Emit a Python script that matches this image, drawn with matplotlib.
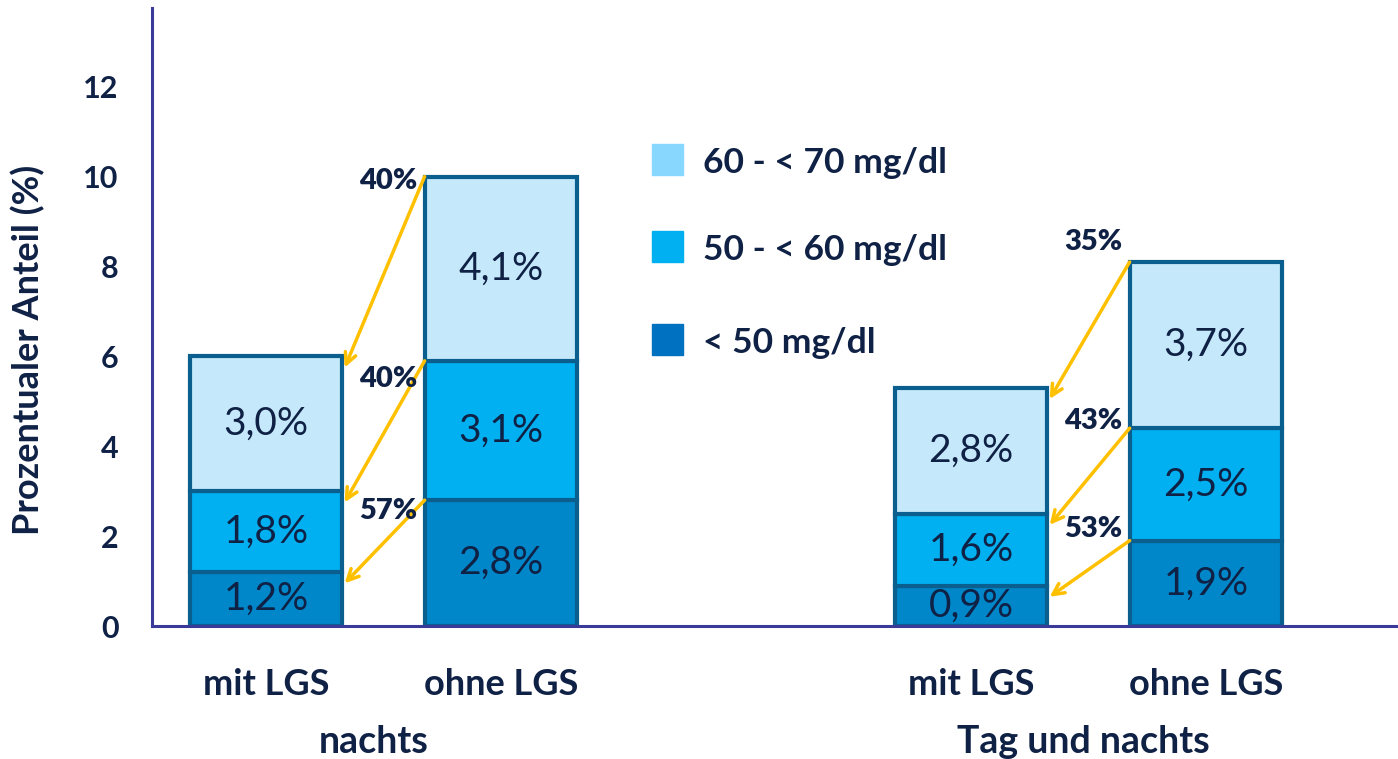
import matplotlib
matplotlib.use("Agg")
import matplotlib.pyplot as plt
from matplotlib.patches import Rectangle

plt.rcParams['font.family'] = ['Lato', 'DejaVu Sans']

# Daten
kategorien = ["mit LGS", "ohne LGS", "mit LGS", "ohne LGS"]
gruppen = ["nachts", "Tag und nachts"]
unter_50 = [1.2, 2.8, 0.9, 1.9]
von_50_60 = [1.8, 3.1, 1.6, 2.5]
von_60_70 = [3.0, 4.1, 2.8, 3.7]
reduktion = ["40%", "40%", "57%", "35%", "43%", "53%"]
reduktion_y = [9.9, 5.5, 2.55, 8.55, 4.55, 2.15]
legende = ["60 - < 70 mg/dl", "50 - < 60 mg/dl", "< 50 mg/dl"]

x = [0, 1, 3, 4]
breite = 0.65

text_farbe = "#0F2145"
kante = "#0A5F8F"
farben_balken = ["#0087C9", "#00B0F0", "#C5E9FB"]
farben_legende = ["#87D7FF", "#00B0F0", "#0070C0"]
pfeil_farbe = "#FFC000"

fig = plt.figure(figsize=(13.98, 7.59), dpi=100)
ax = fig.add_axes([152 / 1398, 133 / 759, 1246 / 1398, 618 / 759])

unten = [0, 0, 0, 0]
for werte, farbe in zip([unter_50, von_50_60, von_60_70], farben_balken):
    ax.bar(x, werte, breite, bottom=unten, color=farbe, edgecolor=kante,
           linewidth=3, zorder=2)
    for xi, w, b in zip(x, werte, unten):
        ax.text(xi, b + w / 2, f"{w:.1f}%".replace(".", ","), ha="center",
                va="center", fontsize=28, color=text_farbe, zorder=3)
    unten = [b + w for b, w in zip(unten, werte)]

# Pfeile von ohne LGS zu mit LGS
k = 0
for mit, ohne in [(0, 1), (2, 3)]:
    oben_mit = [unter_50[mit], unter_50[mit] + von_50_60[mit],
                unter_50[mit] + von_50_60[mit] + von_60_70[mit]]
    oben_ohne = [unter_50[ohne], unter_50[ohne] + von_50_60[ohne],
                 unter_50[ohne] + von_50_60[ohne] + von_60_70[ohne]]
    for i in [2, 1, 0]:
        ax.annotate("", xy=(x[mit] + breite / 2 + 0.01, oben_mit[i] - 0.25),
                    xytext=(x[ohne] - breite / 2, oben_ohne[i]),
                    arrowprops=dict(arrowstyle="->,head_length=0.8,head_width=0.4",
                                    color=pfeil_farbe, lw=2.5, shrinkA=0, shrinkB=0),
                    zorder=4)
        ax.text(x[ohne] - breite / 2 - 0.03, reduktion_y[k], reduktion[k],
                ha="right", va="center", fontsize=21, fontweight="heavy",
                color=text_farbe, zorder=5)
        k += 1

ax.set_xlim(-0.485, 4.817)
ax.set_ylim(0, 13.75)
ax.set_yticks(range(0, 13, 2))
ax.set_yticklabels([str(v) for v in range(0, 13, 2)], fontsize=22,
                   fontweight="bold", color=text_farbe)
ax.tick_params(axis="y", length=0, pad=24)
ax.set_xticks(x)
ax.set_xticklabels(kategorien, fontsize=26, fontweight="bold", color=text_farbe)
ax.tick_params(axis="x", length=0, pad=30)
ax.set_ylabel("Prozentualer Anteil (%)", fontsize=26, fontweight="bold",
              color=text_farbe)
ax.yaxis.set_label_coords(-0.086, 0.447)

for s in ["top", "right"]:
    ax.spines[s].set_visible(False)
for s in ["left", "bottom"]:
    ax.spines[s].set_color("#3A3A98")
    ax.spines[s].set_linewidth(2.2)

# Gruppenbeschriftung
for g, gx in zip(gruppen, [0.46, 3.48]):
    ax.text(gx, -0.188, g, transform=ax.get_xaxis_transform(), ha="center",
            va="center", fontsize=27, fontweight="bold", color=text_farbe)

# Legende
for i, (lab, farbe) in enumerate(zip(legende, farben_legende)):
    yc = [160, 247, 340][i]
    fig.patches.append(Rectangle((652 / 1398, 1 - (yc + 15) / 759), 31 / 1398, 31 / 759,
                                 transform=fig.transFigure, color=farbe))
    fig.text(703 / 1398, 1 - (yc + 3) / 759, lab, ha="left", va="center", fontsize=25.5,
             fontweight="bold", color=text_farbe)

fig.savefig("out.png", dpi=100)
